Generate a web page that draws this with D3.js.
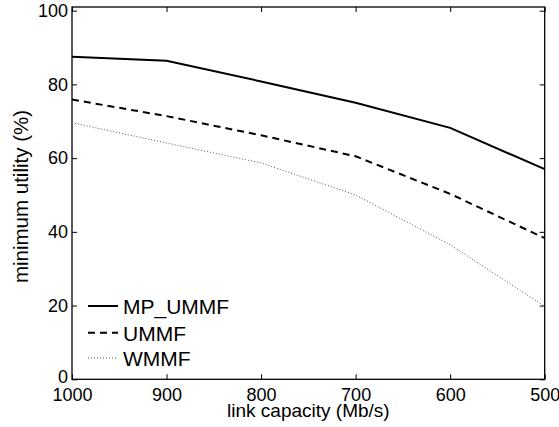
<!DOCTYPE html>
<html><head><meta charset="utf-8">
<script src="https://cdn.jsdelivr.net/npm/d3@7"></script>
<style>body{margin:0;background:#fff}svg{display:block}text{font-family:"Liberation Sans",Arial,Helvetica,sans-serif}</style>
</head><body>
<script>
const capacities = [1000, 900, 800, 700, 600, 500];
const mpUmmf = [87.5, 86.4, 80.8, 75, 68.2, 57];
const ummf = [75.9, 71.4, 66.2, 60.5, 50.3, 38.3];
const wmmf = [69.6, 64.1, 58.7, 50, 36.5, 19.8];
const seriesNames = ["MP_UMMF", "UMMF", "WMMF"];
const xTicks = [1000, 900, 800, 700, 600, 500];
const yTicks = [0, 20, 40, 60, 80, 100];

const W = 559, H = 427;
const L = 72, R = 544.7, T = 7, B = 379.3;
const svg = d3.select("body").append("svg").attr("width", W).attr("height", H);
const x = d3.scaleLinear().domain([1000, 500]).range([L, R]);
const y = d3.scaleLinear().domain([0, 101]).range([B, T]);

const fs = 18;
// box
svg.append("rect").attr("x", L).attr("y", T).attr("width", R - L).attr("height", B - T)
  .attr("fill", "none").attr("stroke", "#000").attr("stroke-width", 1.3);

// axes with inward ticks
const gx = svg.append("g").attr("transform", `translate(0,${B})`)
  .call(d3.axisBottom(x).tickValues(xTicks).tickSizeInner(-5).tickSizeOuter(0).tickPadding(9).tickFormat(d3.format("d")));
const gxt = svg.append("g").attr("transform", `translate(0,${T})`)
  .call(d3.axisTop(x).tickValues(xTicks).tickSizeInner(-5).tickSizeOuter(0).tickFormat(""));
const gy = svg.append("g").attr("transform", `translate(${L},0)`)
  .call(d3.axisLeft(y).tickValues(yTicks).tickSizeInner(-5).tickSizeOuter(0).tickPadding(4));
const gyr = svg.append("g").attr("transform", `translate(${R},0)`)
  .call(d3.axisRight(y).tickValues(yTicks).tickSizeInner(-5).tickSizeOuter(0).tickFormat(""));
[gx, gxt, gy, gyr].forEach(g => {
  g.select(".domain").remove();
  g.selectAll("line").attr("stroke", "#000").attr("stroke-width", 1);
  g.selectAll("text").attr("font-size", fs).attr("fill", "#000");
});
gy.selectAll("text").filter(d => d === 0).attr("dy", "0.2em");

// axis labels
svg.append("text").attr("x", (L + R) / 2).attr("y", 416.5).attr("text-anchor", "middle")
  .attr("font-size", 19).text("link capacity (Mb/s)");
svg.append("text").attr("transform", `translate(28,196.5) rotate(-90)`).attr("text-anchor", "middle")
  .attr("font-size", 20.5).text("minimum utility (%)");

const styles = [
  {data: mpUmmf, dash: null, color: "#000", w: 2},
  {data: ummf, dash: "7,5", color: "#000", w: 2},
  {data: wmmf, dash: "1,2", color: "#555", w: 1}
];
const line = d3.line().x(d => x(d[0])).y(d => y(d[1]));
styles.forEach(s => {
  svg.append("path").datum(capacities.map((c, i) => [c, s.data[i]]))
    .attr("d", line).attr("fill", "none").attr("stroke", s.color).attr("stroke-width", s.w)
    .attr("stroke-dasharray", s.dash);
});

// legend
const legY = [306, 332.7, 358];
styles.forEach((s, i) => {
  svg.append("line").attr("x1", 88).attr("x2", 118).attr("y1", legY[i]).attr("y2", legY[i])
    .attr("stroke", s.color).attr("stroke-width", s.w).attr("stroke-dasharray", s.dash);
  svg.append("text").attr("x", 123).attr("y", legY[i] + 0.8).attr("dy", "0.35em").attr("font-size", 21).text(seriesNames[i]);
});
</script>
</body></html>
